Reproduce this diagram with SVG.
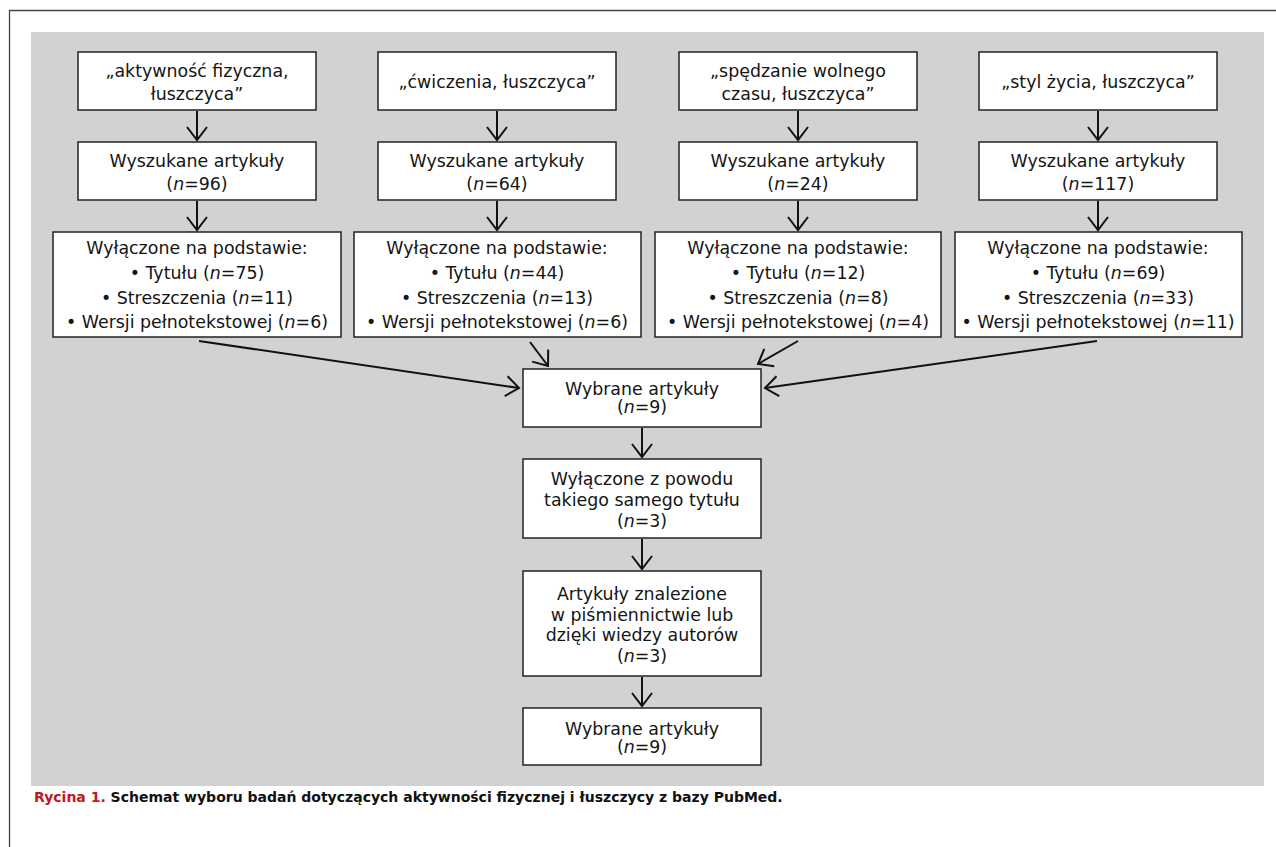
<svg xmlns="http://www.w3.org/2000/svg" width="1276" height="847" viewBox="0 0 1276 847">
<defs>
<style>
.box{fill:#fff;stroke:#222;stroke-width:1.5}
.t{font-family:"DejaVu Sans","Verdana",sans-serif;font-size:17.4px;fill:#151515;text-anchor:middle}
.c{stroke:#111;stroke-width:2;fill:none}
.cap{font-family:"DejaVu Sans",sans-serif;font-size:14px;font-weight:bold}
</style>
<marker id="arr" viewBox="-15 -11 17 22" refX="0" refY="0" markerWidth="17" markerHeight="22" orient="auto" markerUnits="userSpaceOnUse">
<path d="M-13,-10 L0,0 L-13,10" fill="none" stroke="#111" stroke-width="2"/>
</marker>
</defs>
<rect width="1276" height="847" fill="#fff"/>
<path d="M9.5,847 V10.5 H1276" fill="none" stroke="#444" stroke-width="1.3"/>
<rect x="31" y="32" width="1233" height="754" fill="#d1d2d4"/>

<g id="q1"><rect class="box" x="78" y="52" width="238" height="58"/><text class="t" x="197" y="77">„aktywność fizyczna,</text><text class="t" x="197" y="100">łuszczyca”</text></g>
<g id="q2"><rect class="box" x="378" y="52" width="238" height="58"/><text class="t" x="497" y="88">„ćwiczenia, łuszczyca”</text></g>
<g id="q3"><rect class="box" x="679" y="52" width="238" height="58"/><text class="t" x="798" y="77">„spędzanie wolnego</text><text class="t" x="798" y="100">czasu, łuszczyca”</text></g>
<g id="q4"><rect class="box" x="979" y="52" width="238" height="58"/><text class="t" x="1098" y="88">„styl życia, łuszczyca”</text></g>

<g id="s1"><rect class="box" x="78" y="142" width="238" height="58"/><text class="t" x="197" y="167">Wyszukane artykuły</text><text class="t" x="197" y="190">(<tspan font-style="italic">n</tspan>=96)</text></g>
<g id="s2"><rect class="box" x="378" y="142" width="238" height="58"/><text class="t" x="497" y="167">Wyszukane artykuły</text><text class="t" x="497" y="190">(<tspan font-style="italic">n</tspan>=64)</text></g>
<g id="s3"><rect class="box" x="679" y="142" width="238" height="58"/><text class="t" x="798" y="167">Wyszukane artykuły</text><text class="t" x="798" y="190">(<tspan font-style="italic">n</tspan>=24)</text></g>
<g id="s4"><rect class="box" x="979" y="142" width="238" height="58"/><text class="t" x="1098" y="167">Wyszukane artykuły</text><text class="t" x="1098" y="190">(<tspan font-style="italic">n</tspan>=117)</text></g>

<g id="e1"><rect class="box" x="53" y="232" width="288" height="105"/>
<text class="t" x="197" y="254">Wyłączone na podstawie:</text>
<text class="t" x="197" y="279">• Tytułu (<tspan font-style="italic">n</tspan>=75)</text>
<text class="t" x="197" y="304">• Streszczenia (<tspan font-style="italic">n</tspan>=11)</text>
<text class="t" x="197" y="328">• Wersji pełnotekstowej (<tspan font-style="italic">n</tspan>=6)</text></g>
<g id="e2"><rect class="box" x="354" y="232" width="287" height="105"/>
<text class="t" x="497" y="254">Wyłączone na podstawie:</text>
<text class="t" x="497" y="279">• Tytułu (<tspan font-style="italic">n</tspan>=44)</text>
<text class="t" x="497" y="304">• Streszczenia (<tspan font-style="italic">n</tspan>=13)</text>
<text class="t" x="497" y="328">• Wersji pełnotekstowej (<tspan font-style="italic">n</tspan>=6)</text></g>
<g id="e3"><rect class="box" x="655" y="232" width="286" height="105"/>
<text class="t" x="798" y="254">Wyłączone na podstawie:</text>
<text class="t" x="798" y="279">• Tytułu (<tspan font-style="italic">n</tspan>=12)</text>
<text class="t" x="798" y="304">• Streszczenia (<tspan font-style="italic">n</tspan>=8)</text>
<text class="t" x="798" y="328">• Wersji pełnotekstowej (<tspan font-style="italic">n</tspan>=4)</text></g>
<g id="e4"><rect class="box" x="955" y="232" width="287" height="105"/>
<text class="t" x="1098" y="254">Wyłączone na podstawie:</text>
<text class="t" x="1098" y="279">• Tytułu (<tspan font-style="italic">n</tspan>=69)</text>
<text class="t" x="1098" y="304">• Streszczenia (<tspan font-style="italic">n</tspan>=33)</text>
<text class="t" x="1098" y="328">• Wersji pełnotekstowej (<tspan font-style="italic">n</tspan>=11)</text></g>

<g id="w1"><rect class="box" x="523" y="369" width="238" height="58"/><text class="t" x="642" y="395">Wybrane artykuły</text><text class="t" x="642" y="413">(<tspan font-style="italic">n</tspan>=9)</text></g>
<g id="x1"><rect class="box" x="523" y="459" width="238" height="79"/><text class="t" x="642" y="485">Wyłączone z powodu</text><text class="t" x="642" y="506">takiego samego tytułu</text><text class="t" x="642" y="527">(<tspan font-style="italic">n</tspan>=3)</text></g>
<g id="a1"><rect class="box" x="523" y="571" width="238" height="105"/><text class="t" x="642" y="600">Artykuły znalezione</text><text class="t" x="642" y="620.5">w piśmiennictwie lub</text><text class="t" x="642" y="641">dzięki wiedzy autorów</text><text class="t" x="642" y="662">(<tspan font-style="italic">n</tspan>=3)</text></g>
<g id="w2"><rect class="box" x="523" y="708" width="238" height="57"/><text class="t" x="642" y="735">Wybrane artykuły</text><text class="t" x="642" y="753">(<tspan font-style="italic">n</tspan>=9)</text></g>

<g id="connectors">
<line class="c" x1="197" y1="111" x2="197" y2="140" marker-end="url(#arr)"/>
<line class="c" x1="497" y1="111" x2="497" y2="140" marker-end="url(#arr)"/>
<line class="c" x1="798" y1="111" x2="798" y2="140" marker-end="url(#arr)"/>
<line class="c" x1="1098" y1="111" x2="1098" y2="140" marker-end="url(#arr)"/>
<line class="c" x1="197" y1="201" x2="197" y2="230" marker-end="url(#arr)"/>
<line class="c" x1="497" y1="201" x2="497" y2="230" marker-end="url(#arr)"/>
<line class="c" x1="798" y1="201" x2="798" y2="230" marker-end="url(#arr)"/>
<line class="c" x1="1098" y1="201" x2="1098" y2="230" marker-end="url(#arr)"/>
<line class="c" x1="199" y1="341" x2="519" y2="388" marker-end="url(#arr)"/>
<line class="c" x1="530" y1="342" x2="548" y2="366" marker-end="url(#arr)"/>
<line class="c" x1="798" y1="341" x2="758" y2="364" marker-end="url(#arr)"/>
<line class="c" x1="1097" y1="341" x2="765" y2="388" marker-end="url(#arr)"/>
<line class="c" x1="642" y1="428" x2="642" y2="457" marker-end="url(#arr)"/>
<line class="c" x1="642" y1="539" x2="642" y2="569" marker-end="url(#arr)"/>
<line class="c" x1="642" y1="677" x2="642" y2="706" marker-end="url(#arr)"/>
</g>

<text class="cap" x="34" y="802"><tspan fill="#c4161c">Rycina 1.</tspan><tspan fill="#111"> Schemat wyboru badań dotyczących aktywności fizycznej i łuszczycy z bazy PubMed.</tspan></text>
</svg>
